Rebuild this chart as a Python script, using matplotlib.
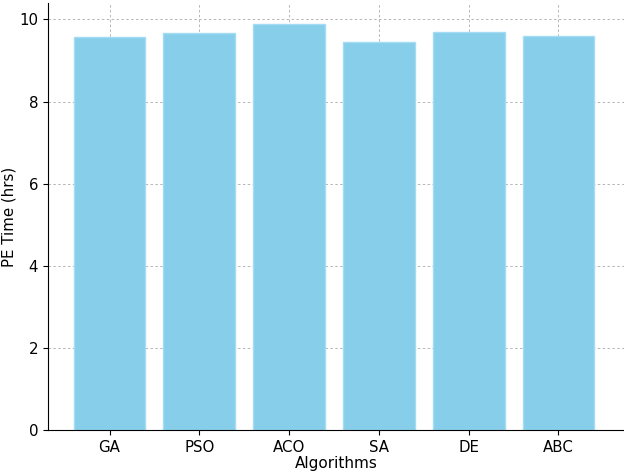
import matplotlib
matplotlib.use("Agg")
import matplotlib.pyplot as plt

algorithms = ["GA", "PSO", "ACO", "SA", "DE", "ABC"]
pe_time = [9.58, 9.66, 9.90, 9.44, 9.70, 9.60]

fig = plt.figure(figsize=(6.24, 4.73), dpi=100)
ax = fig.add_axes([48 / 624, 43 / 473, 576 / 624, 427 / 473])
ax.bar(algorithms, pe_time, color="skyblue", edgecolor="#a3dcf3", linewidth=1, width=0.8, zorder=2)
ax.set_xlim(-0.685, 5.73)
ax.set_ylim(0, 10.4)
ax.set_xlabel("Algorithms", fontsize=11, labelpad=1)
ax.set_ylabel("PE Time (hrs)", fontsize=10.8)
ax.yaxis.set_label_coords(-0.055, 0.5)
ax.tick_params(labelsize=10.8)
ax.grid(True, linestyle=(0, (2.5, 2.5)), color="#b5b5b5", linewidth=0.7, zorder=0)
ax.set_axisbelow(True)
for s in ["top", "right"]:
    ax.spines[s].set_visible(False)
fig.savefig("out.png", dpi=100)
